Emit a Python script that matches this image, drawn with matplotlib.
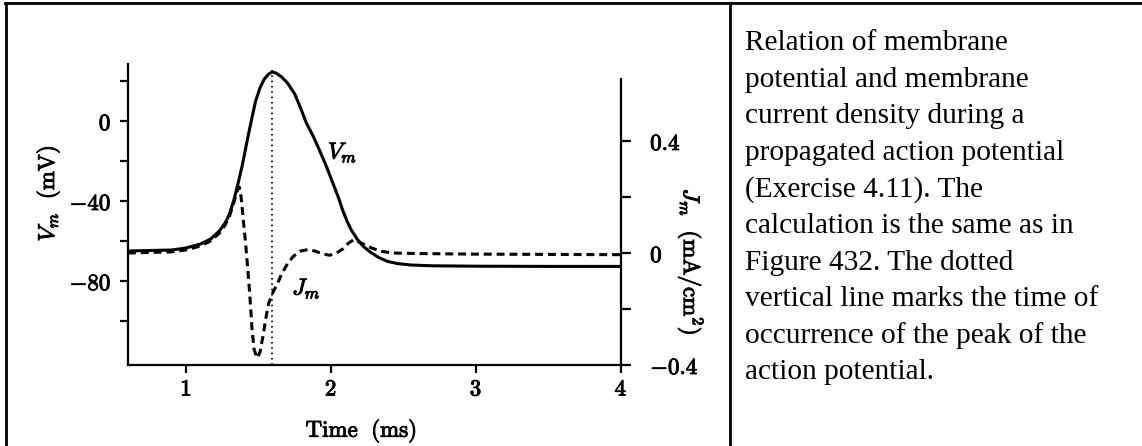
import matplotlib
matplotlib.use("Agg")
import matplotlib.pyplot as plt
import matplotlib.patheffects as pe
from matplotlib.lines import Line2D

plt.rcParams['mathtext.fontset'] = 'cm'

# membrane potential V_m (mV) vs time (ms)
t_vm = [0.60, 0.90, 1.00, 1.10, 1.17, 1.23, 1.27, 1.30, 1.33, 1.36, 1.39, 1.42,
        1.45, 1.48, 1.51, 1.54, 1.57, 1.595, 1.62, 1.66, 1.70, 1.75, 1.79, 1.83,
        1.88, 1.92, 1.97, 2.01, 2.05, 2.08, 2.11, 2.14, 2.18, 2.22, 2.27, 2.33,
        2.39, 2.46, 2.55, 2.70, 3.00, 3.50, 4.00]
vm = [-65, -64.5, -63.5, -61.5, -59, -55, -51, -46.5, -39.5, -31, -21.5, -10.5,
      0, 10, 16.5, 21, 23.5, 24.5, 24, 22, 19, 13.5, 6.5, -1,
      -8, -14.5, -23, -30.5, -38, -44.5, -50, -54.5, -59, -62.5, -65.5, -68.3,
      -70.2, -71.3, -72, -72.4, -72.6, -72.7, -72.7]

# membrane current density J_m (mA/cm^2) vs time (ms)
t_jm = [0.60, 0.90, 1.00, 1.10, 1.17, 1.23, 1.27, 1.30, 1.33, 1.355, 1.368, 1.38,
        1.395, 1.41, 1.425, 1.44, 1.455, 1.47, 1.49, 1.51, 1.53, 1.55, 1.57, 1.60,
        1.63, 1.66, 1.70, 1.74, 1.79, 1.84, 1.89, 1.94, 1.99, 2.04, 2.08, 2.12,
        2.155, 2.19, 2.23, 2.28, 2.34, 2.42, 2.60, 3.00, 4.00]
jm = [0.0, 0.004, 0.011, 0.025, 0.043, 0.071, 0.10, 0.132, 0.18, 0.225, 0.235, 0.20,
      0.12, 0.04, -0.05, -0.15, -0.27, -0.345, -0.375, -0.355, -0.30, -0.235, -0.18, -0.14,
      -0.11, -0.075, -0.038, -0.012, 0.007, 0.012, 0.007, -0.003, -0.008, 0.0, 0.014, 0.035,
      0.047, 0.04, 0.03, 0.018, 0.007, 0.0, -0.002, -0.004, -0.006]

t_peak = 1.595

vm_ticks = [20, 0, -20, -40, -60, -80, -100]
vm_labels = ['', r'$0$', '', r'$-40$', '', r'$-80$', '']
jm_ticks = [0.4, 0.2, 0, -0.2, -0.4]
jm_labels = [r'$0.4$', '', r'$0$', '', r'$-0.4$']
t_ticks = [1, 2, 3, 4]
t_labels = [r'$1$', r'$2$', r'$3$', r'$4$']

caption = ["Relation of membrane",
           "potential and membrane",
           "current density during a",
           "propagated action potential",
           "(Exercise 4.11). The",
           "calculation is the same as in",
           "Figure 432. The dotted",
           "vertical line marks the time of",
           "occurrence of the peak of the",
           "action potential."]

fig = plt.figure(figsize=(11.42, 4.46), dpi=100)
ax = fig.add_axes([128/1142, 1 - 365/446, 493/1142, 301/446])
ax2 = ax.twinx()

ax.plot(t_vm, vm, 'k-', lw=2.2)
ax.vlines(t_peak, -122, 25.5, colors='k', linestyles=(0, (1, 2.2)), lw=1.2)
ax2.plot(t_jm, jm, 'k', ls=(0, (2.6, 1.6)), lw=2.2)

ax.set_xlim(0.6, 4.0)
ax.set_ylim(-122, 28.5)
ax2.set_ylim(-0.4, 0.675)

for a in (ax, ax2):
    a.spines['top'].set_visible(False)
    for s in a.spines.values():
        s.set_linewidth(1.6)
ax.spines['right'].set_visible(False)
ax2.spines['left'].set_visible(False)
ax2.spines['bottom'].set_visible(False)
ax2.spines['right'].set_bounds(-0.4, 0.62)

fs = 16.5
ax.set_xticks(t_ticks)
ax.set_xticklabels(t_labels, fontsize=fs)
ax.set_yticks(vm_ticks)
ax.set_yticklabels(vm_labels, fontsize=fs)
ax2.set_yticks(jm_ticks)
ax2.set_yticklabels(jm_labels, fontsize=fs)
ax.tick_params(axis='x', length=6, width=1.6, pad=3)
ax.tick_params(axis='y', length=6, width=1.6, pad=6)
ax2.tick_params(axis='y', length=7, width=1.6, pad=14)

ax.set_xlabel(r'$\mathrm{Time\ \ (ms)}$', fontsize=fs)
ax.xaxis.set_label_coords(0.473, -0.175)
ax.set_ylabel(r'$V_m\ \ (\mathrm{mV})$', fontsize=fs)
ax.yaxis.set_label_coords(-0.134, 0.57)
ax2.set_ylabel(r'$J_m\ \ (\mathrm{mA/cm^2})$', fontsize=fs, rotation=270)
ax2.yaxis.set_label_coords(1.172, 0.342)

ax.text(2.08, -16, r'$V_m$', fontsize=fs, ha='center', va='center')
ax.text(1.83, -84, r'$J_m$', fontsize=fs, ha='center', va='center')

# scanned look: slightly heavier chart text
heavy = [pe.withStroke(linewidth=0.7, foreground='k')]
chart_texts = (ax.get_xticklabels() + ax.get_yticklabels() + ax2.get_yticklabels()
               + [ax.xaxis.label, ax.yaxis.label, ax2.yaxis.label] + ax.texts)
for txt in chart_texts:
    txt.set_path_effects(heavy)

# table-like frame
fig.add_artist(Line2D([5/1142, 1.0], [1 - 3/446] * 2, color='k', lw=2))
fig.add_artist(Line2D([6/1142] * 2, [0, 1 - 3/446], color='k', lw=2))
fig.add_artist(Line2D([730/1142] * 2, [0, 1 - 3/446], color='k', lw=2))

for i, line in enumerate(caption):
    fig.text(745/1142, 1 - (50 + 36.6 * i)/446, line, fontsize=21.2,
             family='Liberation Serif', ha='left', va='baseline')

fig.savefig('out.png', dpi=100)
